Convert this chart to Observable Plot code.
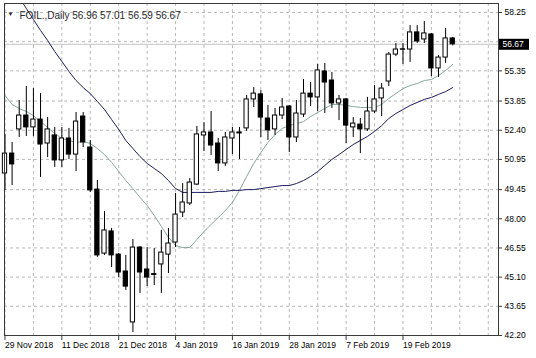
<!DOCTYPE html>
<html><head><meta charset="utf-8">
<script src="https://cdn.jsdelivr.net/npm/d3@7"></script>
<script src="https://cdn.jsdelivr.net/npm/@observablehq/plot@0.6"></script>
<style>
html,body{margin:0;padding:0;background:#fff;}
#chart svg{display:block;}
</style></head><body><div id="chart"></div>
<script>
const symbol = "FOIL.,Daily";
const open = [50.25,51.24,52.44,53.13,52.54,52.93,51.74,52.14,50.90,51.99,
  51.19,53.08,51.54,49.45,46.27,47.37,46.22,45.38,42.85,46.57,
  45.48,45.25,45.73,46.22,46.82,48.31,48.76,49.70,52.14,52.29,
  51.74,50.75,51.99,52.29,52.49,53.93,54.18,52.98,52.44,53.13,
  53.58,52.04,53.18,54.22,54.03,55.32,54.87,53.73,53.93,52.54,
  52.68,52.44,53.33,53.98,54.82,56.16,56.42,56.41,57.26,56.91,
  57.16,55.47,56.01,56.96];
const high = [52.19,51.79,53.88,54.57,54.47,54.22,53.03,52.54,52.54,52.49,
  53.28,53.28,51.89,49.90,48.36,47.52,46.27,46.18,46.97,46.62,
  46.57,46.52,47.42,47.52,49.26,49.75,50.00,52.59,52.78,53.33,
  51.99,52.29,52.54,52.54,54.13,54.52,54.37,53.63,53.48,53.98,
  53.63,53.88,54.92,54.77,55.67,55.72,55.27,54.13,53.98,53.03,
  52.98,54.03,54.62,54.72,56.26,56.71,56.71,57.60,57.60,57.80,
  57.21,56.11,57.45,57.01];
const low = [49.41,49.65,52.04,52.09,52.09,50.05,51.04,50.55,50.55,50.95,
  50.35,51.54,49.31,46.08,46.18,45.58,45.08,44.44,42.35,44.29,
  44.63,44.68,44.29,45.28,46.57,48.06,48.66,49.65,51.34,51.14,
  50.35,50.60,51.19,50.95,52.34,53.53,52.04,51.89,52.14,52.93,
  51.29,51.79,53.03,53.58,53.33,53.23,53.48,52.88,51.74,52.04,
  51.24,52.34,53.23,53.08,54.57,56.06,55.67,55.77,56.71,56.71,
  55.07,55.02,55.72,56.59];
const close = [51.24,50.70,53.13,52.54,52.93,51.69,52.44,50.90,51.99,51.19,
  52.83,51.79,49.41,46.18,47.42,46.18,45.33,44.63,46.57,45.33,
  45.08,45.21,46.32,46.77,48.21,48.81,49.80,52.19,52.29,51.64,
  50.75,52.04,52.29,52.24,53.93,54.22,53.03,52.39,53.13,53.53,
  52.04,53.23,54.22,54.03,55.37,54.77,53.73,53.93,52.63,52.73,
  52.44,53.33,53.93,54.47,56.16,56.41,56.40,57.26,56.81,57.21,
  55.47,56.01,56.96,56.67];
const fastMA = [54.13,53.68,53.48,53.33,53.13,52.83,52.54,52.24,51.99,51.89,
  51.79,51.84,51.74,51.49,51.19,50.80,50.35,49.90,49.50,49.06,
  48.66,48.16,47.62,47.07,46.67,46.57,46.57,46.97,47.37,47.72,
  48.06,48.41,48.81,49.41,50.10,50.75,51.29,51.79,52.19,52.49,
  52.63,52.73,52.83,53.08,53.28,53.48,53.68,53.68,53.63,53.58,
  53.53,53.53,53.53,53.68,53.98,54.22,54.47,54.62,54.72,54.87,
  54.92,55.12,55.37,55.67];
const slowMA = [60.04,59.49,59.00,58.45,57.90,57.36,56.86,56.31,55.82,55.32,
  54.87,54.52,54.22,53.83,53.43,52.93,52.44,51.89,51.49,51.09,
  50.75,50.50,50.25,49.90,49.50,49.31,49.31,49.31,49.31,49.31,
  49.36,49.36,49.41,49.41,49.45,49.45,49.50,49.55,49.60,49.65,
  49.65,49.75,49.90,50.10,50.35,50.65,50.95,51.19,51.44,51.69,
  51.89,52.09,52.34,52.63,52.98,53.23,53.43,53.63,53.78,53.93,
  54.03,54.18,54.32,54.52];
const xTickIdx = [0,8,16,24,32,40,48,56];
const xTickLabels = ["29 Nov 2018","11 Dec 2018","21 Dec 2018","4 Jan 2019","16 Jan 2019","28 Jan 2019","7 Feb 2019","19 Feb 2019"];
const yGrid = [42.20,43.65,45.10,46.55,48.00,49.45,50.95,52.40,53.85,55.35,56.80,58.25];
const yLabelTicks = [42.20,43.65,45.10,46.55,48.00,49.45,50.95,52.40,53.85,55.35,58.25];

const n = open.length;
const bars = open.map((o,i)=>({i, o, h: high[i], l: low[i], c: close[i], up: close[i] >= o}));
const idx = d3.range(n);
const xGrid = d3.range(0, 69, 4);
const fmt = d3.format(".2f");
const font = "'Liberation Sans', Arial, sans-serif";
const W = 536, H = 358, mL = 4, mR = 38, mT = 3, mB = 23;
const xDomain = [-0.07, 69.44];
const last = n - 1;
const header = `${symbol} ${fmt(open[last])} ${fmt(high[last])} ${fmt(low[last])} ${fmt(close[last])}`;
const gridStyle = {stroke: "#b8b8b8", strokeOpacity: 1, strokeDasharray: "3,3"};

// helper x scale (same as the chart's) to place the last-price tag in the right margin
const xs = Plot.scale({x: {domain: xDomain, range: [mL, W - mR]}});
const tagX1 = xs.invert(W - mR + 1), tagX2 = xs.invert(W - mR + 31), tagTX = xs.invert(W - mR + 4);
const tag = [{v: close[last], x1: tagX1, x2: tagX2, tx: tagTX}];

const plot = Plot.plot({
  width: W, height: H,
  marginLeft: mL, marginRight: mR, marginTop: mT, marginBottom: mB,
  style: {fontFamily: font, fontSize: "8.5px", color: "#000", background: "#fff"},
  x: {domain: xDomain},
  y: {domain: [42.20, 58.697]},
  marks: [
    Plot.gridX(xGrid, gridStyle),
    Plot.gridY(yGrid, gridStyle),
    Plot.ruleY([close[last]], {stroke: "#c4c4c4"}),
    Plot.line(idx, {x: i => i, y: i => fastMA[i], stroke: "#88a89a", strokeWidth: 1, clip: true}),
    Plot.line(idx, {x: i => i, y: i => slowMA[i], stroke: "#1c1c5e", strokeWidth: 1, clip: true}),
    Plot.ruleX(bars, {x: "i", y1: "l", y2: "h", stroke: "#000", strokeWidth: 1}),
    Plot.rect(bars.filter(d => d.up), {x1: d => d.i - 0.3, x2: d => d.i + 0.3, y1: "o", y2: "c", fill: "#fff", stroke: "#000", strokeWidth: 1}),
    Plot.rect(bars.filter(d => !d.up), {x1: d => d.i - 0.3, x2: d => d.i + 0.3, y1: "o", y2: "c", fill: "#000", stroke: "#000", strokeWidth: 1}),
    Plot.frame({stroke: "#3a3a3a"}),
    Plot.axisX({ticks: xTickIdx, tickFormat: d => xTickLabels[xTickIdx.indexOf(d)], textAnchor: "start", tickSize: 5, tickPadding: 1, label: null, stroke: "#3a3a3a"}),
    Plot.axisY({anchor: "right", ticks: yLabelTicks, tickFormat: fmt, tickSize: 3, tickPadding: 3, label: null, stroke: "#3a3a3a"}),
    Plot.ruleY(tag, {y: "v", x1: "x1", x2: "x2", stroke: "#000", strokeWidth: 11, clip: false}),
    Plot.text(tag, {y: "v", x: "tx", text: d => fmt(d.v), textAnchor: "start", fill: "#fff", fontSize: 8.5, clip: false}),
    Plot.text(["\u25BC"], {frameAnchor: "top-left", dx: 3, dy: 8, fontSize: 6, fill: "#222"}),
    Plot.text([header], {frameAnchor: "top-left", dx: 15, dy: 8, fontSize: 10, fill: "#2a2a2a"})
  ]
});

document.getElementById("chart").appendChild(plot);
</script>
</body></html>
